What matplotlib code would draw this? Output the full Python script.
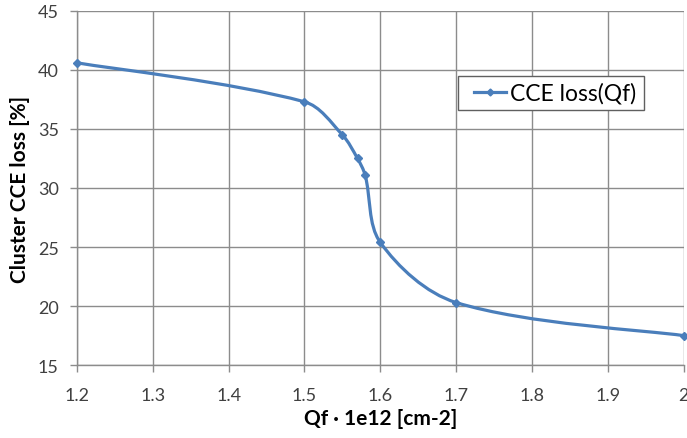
import numpy as np
import matplotlib
matplotlib.use("Agg")
import matplotlib.pyplot as plt
from matplotlib.path import Path
from matplotlib.patches import PathPatch, Rectangle
from matplotlib.lines import Line2D

plt.rcParams['font.family'] = ['Lato', 'DejaVu Sans']

qf = [1.2, 1.5, 1.55, 1.57, 1.58, 1.6, 1.7, 2.0]
cce_loss = [40.6, 37.3, 34.5, 32.5, 31.1, 25.4, 20.3, 17.5]
x_ticks = [1.2, 1.3, 1.4, 1.5, 1.6, 1.7, 1.8, 1.9, 2.0]
x_tick_labels = ['1.2', '1.3', '1.4', '1.5', '1.6', '1.7', '1.8', '1.9', '2']
y_ticks = [15, 20, 25, 30, 35, 40, 45]

line_color = '#4a7ebb'
grid_color = '#8c8c8c'


def smooth_path(x, y, sx, sy):
    # Excel-like smoothed line: cubic Bezier segments, tangents weighted by
    # segment length measured in screen-ish units (sx, sy = px per data unit)
    pts = np.column_stack([x, y])
    scale = np.array([sx, sy])
    n = len(pts)
    verts = [pts[0]]
    codes = [Path.MOVETO]

    def dist(a, b):
        return np.hypot(*((b - a) * scale))

    for i in range(n - 1):
        p0 = pts[i - 1] if i > 0 else pts[i]
        p1 = pts[i]
        p2 = pts[i + 1]
        p3 = pts[i + 2] if i + 2 < n else pts[i + 1]
        d01, d12, d23 = dist(p0, p1), dist(p1, p2), dist(p2, p3)
        w1 = d12 / (d01 + d12) if d01 > 0 else 0.5
        w2 = d12 / (d12 + d23) if d23 > 0 else 0.5
        c1 = p1 + (p2 - p0) * w1 / 3.0
        c2 = p2 - (p3 - p1) * w2 / 3.0
        verts += [c1, c2, p2]
        codes += [Path.CURVE4] * 3
    return Path(verts, codes)


fig = plt.figure(figsize=(6.87, 4.39), dpi=100)
ax = fig.add_axes([0.112, 0.166, 0.883, 0.807])

ax.set_xlim(1.2, 2.0)
ax.set_ylim(15, 45)

ax.add_patch(PathPatch(smooth_path(qf, cce_loss, 607 / 0.8, 354 / 30.0),
                       facecolor='none', edgecolor=line_color, lw=2.3, zorder=3))
ax.plot(qf, cce_loss, linestyle='none', marker='D', ms=4.5,
        color=line_color, zorder=4, clip_on=False)

ax.set_xticks(x_ticks)
ax.set_xticklabels(x_tick_labels)
ax.set_yticks(y_ticks)
ax.grid(True, color=grid_color, lw=1.0)
ax.set_axisbelow(True)

for s in ['top', 'right']:
    ax.spines[s].set_visible(False)
for s in ['left', 'bottom']:
    ax.spines[s].set_color(grid_color)
    ax.spines[s].set_linewidth(1.0)

ax.tick_params(axis='both', direction='out', length=5, width=1.0,
               color=grid_color, labelsize=13, labelcolor='#404040')
ax.tick_params(axis='x', pad=11)
ax.tick_params(axis='y', pad=8)

ax.set_xlabel('Qf · 1e12 [cm-2]', fontsize=15, fontweight='bold', labelpad=3)
ax.set_ylabel('Cluster CCE loss [%]', fontsize=15, fontweight='bold', labelpad=6)

# legend box drawn separately so the inner padding matches the reference
ax.add_patch(Rectangle((0.628, 0.720), 0.306, 0.096, transform=ax.transAxes,
                       facecolor='white', edgecolor='#606060', lw=1.0, zorder=5))
handle = Line2D([], [], color=line_color, lw=2.3, marker='D', ms=3.5)
leg = ax.legend([handle], ['CCE loss(Qf)'], loc='center left',
                bbox_to_anchor=(0.655, 0.768), fontsize=16.5, frameon=False,
                handlelength=1.4, handletextpad=0.15,
                borderpad=0, borderaxespad=0)
leg.set_zorder(6)

fig.savefig('out.png', dpi=100)
